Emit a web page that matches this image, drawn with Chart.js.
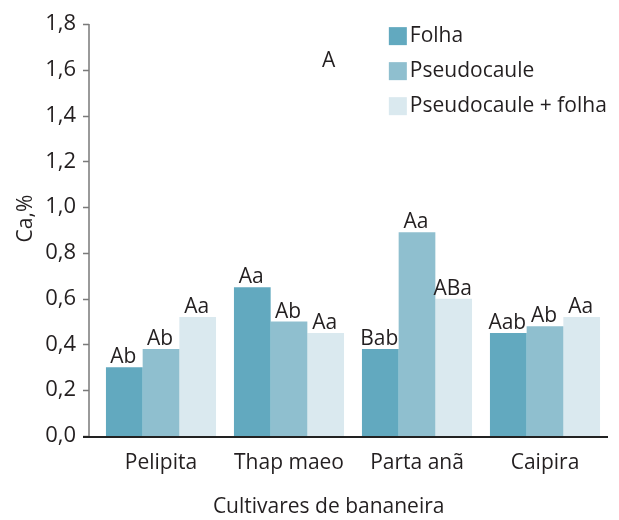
<!DOCTYPE html>
<html>
<head>
<meta charset="utf-8">
<script src="https://cdn.jsdelivr.net/npm/chart.js@4.4.1/dist/chart.umd.min.js"></script>
<style>
  html, body { margin: 0; padding: 0; background: #fff; }
  #wrap { width: 619px; height: 520px; position: relative; }
</style>
</head>
<body>
<div id="wrap"><canvas id="chart"></canvas></div>
<script>
(function () {
  'use strict';

  var categories = ['Pelipita', 'Thap maeo', 'Parta anã', 'Caipira'];
  var seriesNames = ['Folha', 'Pseudocaule', 'Pseudocaule + folha'];
  var folha = [0.30, 0.65, 0.38, 0.45];
  var pseudocaule = [0.38, 0.50, 0.89, 0.48];
  var mistura = [0.52, 0.45, 0.60, 0.52];
  var letrasFolha = ['Ab', 'Aa', 'Bab', 'Aab'];
  var letrasPseudo = ['Ab', 'Ab', 'Aa', 'Ab'];
  var letrasMistura = ['Aa', 'Aa', 'ABa', 'Aa'];
  var yTicks = [0, 0.2, 0.4, 0.6, 0.8, 1.0, 1.2, 1.4, 1.6, 1.8];
  var anotacao = { text: 'A', x: 1.31, y: 1.638 };
  var yTitle = 'Ca,%';
  var xTitle = 'Cultivares de bananeira';

  var FONT = '"Open Sans", "Noto Sans", sans-serif';
  var INK = '#231f20';
  var colors = ['#62a9bf', '#8fbfcf', '#dae9ef'];

  var fmt = function (v) { return v.toFixed(1).replace('.', ','); };

  var decor = {
    id: 'decor',
    afterDatasetsDraw: function (chart) {
      var ctx = chart.ctx;
      var y = chart.scales.y;
      var x = chart.scales.x;
      var area = chart.chartArea;
      var axX = area.left - 8;
      ctx.save();

      // y axis line + ticks
      ctx.strokeStyle = '#7a7a7a';
      ctx.lineWidth = 1.5;
      ctx.beginPath();
      ctx.moveTo(axX, y.getPixelForValue(1.8));
      ctx.lineTo(axX, area.bottom + 2);
      yTicks.forEach(function (t) {
        var py = Math.round(y.getPixelForValue(t)) + 0.5;
        ctx.moveTo(axX - 6, py);
        ctx.lineTo(axX, py);
      });
      ctx.stroke();

      // x axis line
      ctx.strokeStyle = '#222';
      ctx.lineWidth = 2;
      ctx.beginPath();
      ctx.moveTo(axX - 6, area.bottom + 1);
      ctx.lineTo(area.right - 1, area.bottom + 1);
      ctx.stroke();

      // bar letters
      var letters = [letrasFolha, letrasPseudo, letrasMistura];
      ctx.fillStyle = INK;
      ctx.font = '21px ' + FONT;
      ctx.textAlign = 'center';
      ctx.textBaseline = 'alphabetic';
      chart.data.datasets.forEach(function (ds, di) {
        var meta = chart.getDatasetMeta(di);
        meta.data.forEach(function (bar, i) {
          ctx.fillText(letters[di][i], bar.x - 1, bar.y - 4);
        });
      });

      // annotation
      ctx.textBaseline = 'middle';
      ctx.fillText(anotacao.text, x.getPixelForValue(anotacao.x), y.getPixelForValue(anotacao.y));

      // x title
      ctx.fillText(xTitle, x.getPixelForValue(anotacao.x), area.bottom + 71);

      // legend
      ctx.textAlign = 'left';
      chart.data.datasets.forEach(function (ds, di) {
        var ly = y.getPixelForValue(1.747 - di * 0.153);
        var lx = x.getPixelForValue(1.78);
        ctx.fillStyle = ds.backgroundColor;
        ctx.fillRect(lx, ly - 9, 18, 18);
        ctx.fillStyle = INK;
        ctx.fillText(ds.label, lx + 21, ly);
      });

      // y title
      ctx.save();
      ctx.translate(26, y.getPixelForValue(0.95));
      ctx.rotate(-Math.PI / 2);
      ctx.textAlign = 'center';
      ctx.fillText(yTitle, 0, 0);
      ctx.restore();

      ctx.restore();
    }
  };

  new Chart(document.getElementById('chart'), {
    type: 'bar',
    data: {
      labels: categories,
      datasets: [
        { label: seriesNames[0], data: folha, backgroundColor: colors[0] },
        { label: seriesNames[1], data: pseudocaule, backgroundColor: colors[1] },
        { label: seriesNames[2], data: mistura, backgroundColor: colors[2] }
      ]
    },
    options: {
      responsive: true,
      maintainAspectRatio: false,
      animation: false,
      layout: { padding: { top: 24, right: 10, left: 0, bottom: 0 } },
      datasets: { bar: { categoryPercentage: 0.86, barPercentage: 1.0 } },
      plugins: { legend: { display: false }, tooltip: { enabled: false } },
      scales: {
        x: {
          grid: { display: false, drawTicks: false },
          border: { display: false },
          ticks: { color: INK, font: { family: FONT, size: 21 }, padding: 14 },
          afterFit: function (s) { s.height = 84; s.paddingLeft = 0; s.paddingRight = 0; }
        },
        y: {
          min: 0, max: 1.8,
          grid: { display: false, drawTicks: false },
          border: { display: false },
          afterBuildTicks: function (s) { s.ticks = yTicks.map(function (v) { return { value: v }; }); },
          ticks: {
            color: INK, font: { family: FONT, size: 22 }, padding: 21,
            callback: function (v) { return fmt(v); }
          },
          afterFit: function (s) { s.width = 97; s.paddingTop = 0; s.paddingBottom = 0; }
        }
      }
    },
    plugins: [decor]
  });
})();
</script>
</body>
</html>
